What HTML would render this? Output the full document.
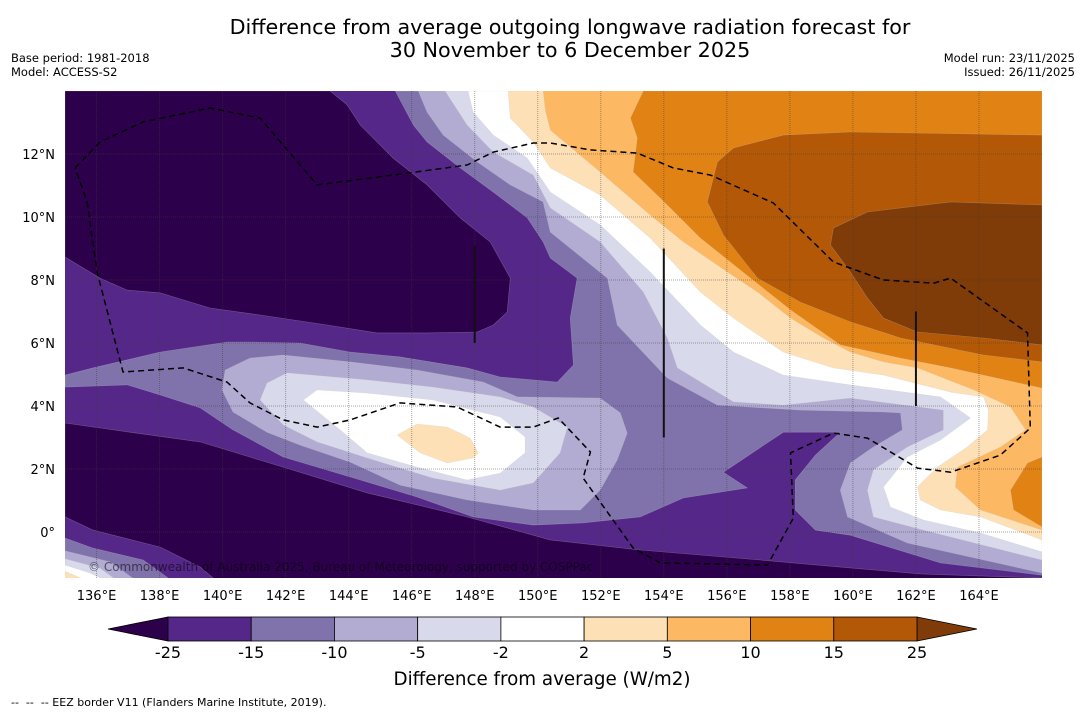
<!DOCTYPE html>
<html><head><meta charset="utf-8">
<style>
body{margin:0;background:#fff;}
svg{display:block;font-family:"DejaVu Sans","Liberation Sans",sans-serif;}
</style></head>
<body>
<svg id="chart" width="1085" height="713" viewBox="0 0 1085 713" xmlns="http://www.w3.org/2000/svg">
<defs><clipPath id="mapclip"><rect x="65" y="91" width="977" height="487"/></clipPath></defs>
<text x="570" y="34" text-anchor="middle" font-size="20.7" fill="#000">Difference from average outgoing longwave radiation forecast for</text>
<text x="570" y="57" text-anchor="middle" font-size="20.7" fill="#000">30 November to 6 December 2025</text>
<text x="11" y="62" font-size="11.5">Base period: 1981-2018</text>
<text x="11" y="76" font-size="11.5">Model: ACCESS-S2</text>
<text x="1075" y="62" font-size="11.5" text-anchor="end">Model run: 23/11/2025</text>
<text x="1075" y="76" font-size="11.5" text-anchor="end">Issued: 26/11/2025</text>
<g id="map" clip-path="url(#mapclip)"></g>
<g id="overlay"></g>
<g id="axes"></g>
<g id="cbar"></g>
<text x="542" y="685" text-anchor="middle" font-size="18.3">Difference from average (W/m2)</text>
<text x="11" y="706" font-size="11" xml:space="preserve">--  --  -- EEZ border V11 (Flanders Marine Institute, 2019).</text>
</svg>
<script>
// ---- data ----
const lonTicks = [136,138,140,142,144,146,148,150,152,154,156,158,160,162,164];
const latTicks = [0,2,4,6,8,10,12];
const cbLevels = [-25,-15,-10,-5,-2,2,5,10,15,25];
const cbColors = ["#542788","#8073ac","#b2abd2","#d8daeb","#ffffff","#fee0b6","#fdb863","#e08214","#b35806"];
const cbUnder = "#2d004b";
const cbOver = "#7f3b08";
// filled contour polygons (lon,lat pairs), drawn in order
const bgLevel = -25;
const polyD1 = [135,14,143.41,14,143.95,13.56,144.37,12.92,145.41,11.87,146.49,11.02,147.54,9.97,148.49,9.21,149.13,8.06,149.03,6.98,148.59,6.57,148.08,6.35,146.49,6.32,144.9,6.32,143.32,6.57,141.19,6.89,139.6,7.11,138.02,7.59,136.97,7.68,136.11,8.06,135,8.73];
const polyD2 = [135,3.46,137.06,3.17,139.29,2.86,141.92,2.06,144.59,1.24,147.76,0.48,150.4,-0.25,153.25,-0.57,157.06,-0.89,159.92,-1.14,162.14,-1.33,166,-1.46,166,-1.7,139.7,-1.7,139.7,-1.46,139.29,-1.11,138.02,-0.48,135.89,0.06,135,0.48];
const polyM15 = [145.48,14,146.05,12.92,146.49,12.38,147.54,11.56,148.59,10.79,149.67,9.97,150.17,9.21,150.4,8.7,151.25,8.06,151.03,6.79,151.13,5.3,150.62,4.76,148.81,4.92,147.76,5.21,145.63,5.56,144.05,5.71,142.46,6.0,140.87,6.03,140.14,6.03,138.02,5.71,135.89,5.21,135,4.98,135,4.6,136.97,4.67,138.02,4.35,139.29,3.94,140.33,3.24,141.92,2.38,144.05,1.75,146.17,1.11,147.95,0.48,149.86,0.22,151.44,0.29,153.25,0.48,154.62,1.08,156.65,1.4,155.89,1.9,157.79,3.17,159.6,3.17,158.81,2.44,158.17,1.65,158.17,0.7,158.81,0.06,159.92,-0.1,162.78,-0.98,166,-1.37,166,14];
const polyM15c = [135,-0.19,135.89,-0.51,137.48,-0.89,138.33,-1.5,135,-1.5];
const polyM10a = [146.21,14,146.49,13.33,147.0,12.6,148.08,11.75,149.13,11.02,150.17,10.48,150.4,9.52,152.21,8.06,152.52,6.57,154.11,4.89,155.7,4.03,158.33,3.87,160.97,3.81,161.51,3.78,161.57,3.24,160.65,2.7,159.92,2.19,159.6,1.33,159.83,0.48,161.73,-0.35,166,-1.3,166,14];
const polyM10b = [139.98,4.51,140.08,5.14,140.87,5.52,141.92,5.62,144.05,5.4,146.17,5.14,148.27,4.76,149.35,4.29,151.98,4.25,152.62,3.78,152.84,3.14,152.52,2.29,151.98,1.33,151.35,0.7,149.86,0.7,147.76,1.02,145.63,1.49,144.05,2.22,142.46,2.76,141.41,3.17,140.33,3.81];
const polyM10c = [135,-0.6,136.43,-0.95,137.2,-1.5,135,-1.5];
const polyM5a = [147.06,14,147.76,12.92,148.59,12.06,149.86,11.33,150.4,10.29,151.98,9.21,153.35,7.62,154.11,6.16,154.43,5.21,156.21,4.13,157.79,4.03,159.92,4.25,162.87,3.87,162.87,3.24,161.73,2.7,160.65,1.97,160.46,1.33,160.65,0.48,162.24,0.06,166,-0.89,166,14];
const polyM5b = [141.19,4.19,141.41,4.73,142.05,5.05,144.59,4.83,146.68,4.6,148.81,4.29,149.86,3.97,150.94,3.33,150.71,2.51,149.86,1.56,148.81,1.33,146.68,1.71,144.59,2.35,143.0,2.86,141.92,3.4];
const polyM5c = [135,-0.85,136.11,-1.15,136.6,-1.5,135,-1.5];
const polyM2a = [147.79,14,147.95,13.33,148.59,12.6,149.67,11.87,150.4,10.79,151.98,9.75,153.57,8.25,155.16,6.57,156.21,5.71,157.79,4.98,159.92,4.67,162.78,4.29,163.73,3.62,162.78,2.92,161.73,2.38,160.97,1.43,161.19,0.79,162.24,0.38,164.05,-0.03,166,-0.63,166,14];
const polyM2b = [142.56,4.19,143.0,4.51,144.59,4.41,146.68,4.19,148.81,3.65,149.6,3.02,149.6,2.51,148.81,1.87,147.76,1.65,146.17,2.06,144.59,2.51,143.73,3.24];
const polyM2c = [135,-1.05,135.79,-1.3,136.2,-1.5,135,-1.5];
const polyP2a = [149.06,14,149.13,13.14,149.86,12.38,150.4,11.56,151.98,10.7,153.57,9.33,155.16,7.62,156.21,6.79,157.79,5.71,159.38,5.21,160.97,4.98,163.1,4.44,164.14,4.29,164.3,3.87,164.27,3.24,163.63,2.7,162.68,2.06,162.05,1.43,162.14,1.02,162.78,0.7,164.05,0.48,166,-0.25,166,14];
const polyP2b = [145.54,3.08,146.17,3.43,147.13,3.33,147.86,2.98,148.11,2.51,147.95,2.35,147.13,2.19,146.27,2.51];
const polyP2c = [135,-1.25,135.6,-1.5,135,-1.5];
const polyP5 = [150.17,14,150.24,13.4,150.4,12.76,151.98,11.43,153.57,10.06,154.62,9.21,156.02,8.25,156.97,7.62,158.02,6.79,159.06,6.16,159.92,5.71,160.97,5.4,162.05,5.21,163.83,4.51,165.0,3.97,165.48,3.24,164.68,2.7,163.32,2.06,163.25,1.43,164.05,0.7,166,0.06,166,14];
const polyP10a = [153.35,14,152.94,13.14,153.16,12.51,153.03,11.43,153.89,10.6,155.16,9.33,156.75,8.06,158.02,7.05,159.6,5.94,161.51,5.52,163.1,5.21,166,4.57,166,14];
const polyP10b = [166,2.38,165.54,2.19,165.0,1.33,165.1,0.7,166,0.16];
const polyP15 = [166,12.6,159.92,12.7,157.79,12.6,156.21,12.19,155.7,11.75,155.38,10.48,155.89,9.43,156.97,8.06,158.33,7.3,159.92,6.67,161.51,6.16,164.14,5.62,166,5.4];
const polyP25 = [166,10.38,163.1,10.48,160.46,10.16,159.38,9.65,159.29,9.11,159.92,8.25,160.46,7.43,160.97,6.79,162.05,6.35,164.14,6.16,166,5.94];
const eezLine = [135.32,11.56,136.11,12.38,137.48,13.02,139.6,13.46,141.19,13.14,143.0,11.02,145.41,11.33,147.76,11.65,148.59,12.06,149.86,12.35,150.4,12.35,151.67,12.13,153.16,12.03,154.3,11.56,155.48,11.33,157.48,10.44,159.38,8.57,160.97,8.0,162.56,7.9,163.1,8.06,165.54,6.32,165.63,3.3,164.68,2.44,163.1,1.9,162.05,2.03,160.46,2.98,159.38,3.14,158.02,2.51,158.11,0.44,157.29,-1.05,153.89,-0.98,153.03,-0.51,151.44,1.71,151.67,2.54,150.65,3.62,149.86,3.33,148.81,3.33,147.44,3.97,145.63,4.1,144.05,3.56,143.0,3.33,141.92,3.56,140.87,4.1,140.14,4.76,138.75,5.21,136.84,5.08,136.02,8.25,135.7,10.48,135.32,11.56];
const boundaryLon = [148,154,162];
const boundaryLat0 = [9.1,9.0,7.0];
const boundaryLat1 = [6.0,3.0,4.0];

// ---- axes ----
const X0=65,X1=1042,Y0=91,Y1=578, LON0=135,LON1=166, LAT0=-1.46, LAT1=14;
const xs = lon => X0 + (lon-LON0)/(LON1-LON0)*(X1-X0);
const ys = lat => Y1 - (lat-LAT0)/(LAT1-LAT0)*(Y1-Y0);
const NS="http://www.w3.org/2000/svg";
function mk(tag, parent){const e=document.createElementNS(NS,tag);parent.appendChild(e);return e;}
function colorFor(v){ if(v<cbLevels[0]) return cbUnder; for(let i=0;i<cbLevels.length-1;i++){ if(v<cbLevels[i+1]) return cbColors[i]; } return cbOver; }
const map=document.getElementById('map');
const bg=mk('rect',map);


bg.setAttribute('x',X0);bg.setAttribute('y',Y0);bg.setAttribute('width',X1-X0);bg.setAttribute('height',Y1-Y0);bg.setAttribute('fill',colorFor(bgLevel));
const layers = [
 [polyD1,-30,'contour-below-25-north'],[polyD2,-30,'contour-below-25-south'],
 [polyM15,-12,'contour-m15'],[polyM15c,-12,'contour-m15-corner'],
 [polyM10a,-7,'contour-m10-north'],[polyM10b,-7,'contour-m10-central'],[polyM10c,-7,'contour-m10-corner'],
 [polyM5a,-3,'contour-m5-north'],[polyM5b,-3,'contour-m5-central'],[polyM5c,-3,'contour-m5-corner'],
 [polyM2a,0,'contour-m2-north'],[polyM2b,0,'contour-m2-central'],[polyM2c,0,'contour-m2-corner'],
 [polyP2a,3,'contour-p2-north'],[polyP2b,3,'contour-p2-central'],[polyP2c,3,'contour-p2-corner'],
 [polyP5,7,'contour-p5'],[polyP10a,12,'contour-p10-north'],[polyP10b,12,'contour-p10-east'],
 [polyP15,20,'contour-p15'],[polyP25,30,'contour-p25']
];
layers.forEach(([pts,val,name])=>{
  const p=mk('polygon',map);
  
  
  let s=[];for(let i=0;i<pts.length;i+=2){s.push(xs(pts[i]).toFixed(1)+','+ys(pts[i+1]).toFixed(1));}
  p.setAttribute('points',s.join(' '));
  p.setAttribute('fill',colorFor(val));
  p.setAttribute('stroke','rgba(200,200,200,0.35)');p.setAttribute('stroke-width','0.6');
});
// gridlines
lonTicks.forEach(l=>{const g=mk('line',map);
  
  
  g.setAttribute('x1',xs(l));g.setAttribute('x2',xs(l));g.setAttribute('y1',Y0);g.setAttribute('y2',Y1);g.setAttribute('stroke','rgba(60,60,60,0.45)');g.setAttribute('stroke-width','1');g.setAttribute('stroke-dasharray','1,1');});
latTicks.forEach(l=>{const g=mk('line',map);
  
  
  g.setAttribute('y1',ys(l));g.setAttribute('y2',ys(l));g.setAttribute('x1',X0);g.setAttribute('x2',X1);g.setAttribute('stroke','rgba(60,60,60,0.45)');g.setAttribute('stroke-width','1');g.setAttribute('stroke-dasharray','1,1');});
// EEZ
const ov=document.getElementById('map');
const eez=mk('polyline',ov);


let es=[];for(let i=0;i<eezLine.length;i+=2){es.push(xs(eezLine[i]).toFixed(1)+','+ys(eezLine[i+1]).toFixed(1));}
eez.setAttribute('points',es.join(' '));eez.setAttribute('fill','none');eez.setAttribute('stroke','#000');eez.setAttribute('stroke-width','1.5');eez.setAttribute('stroke-dasharray','6,4');
boundaryLon.forEach((l,i)=>{const b=mk('line',ov);
  
  
  b.setAttribute('x1',xs(l));b.setAttribute('x2',xs(l));b.setAttribute('y1',ys(boundaryLat0[i]));b.setAttribute('y2',ys(boundaryLat1[i]));b.setAttribute('stroke','#111');b.setAttribute('stroke-width','2');});
const cp=mk('text',ov);


cp.setAttribute('x',88);cp.setAttribute('y',571);cp.setAttribute('font-size','12');cp.setAttribute('fill','rgba(0,0,0,0.55)');
cp.textContent='© Commonwealth of Australia 2025, Bureau of Meteorology, supported by COSPPac';
// tick labels
const axes=document.getElementById('axes');
lonTicks.forEach(l=>{const t=mk('text',axes);
  
  
  t.setAttribute('x',xs(l));t.setAttribute('y',600);t.setAttribute('text-anchor','middle');t.setAttribute('font-size','13');t.textContent=l+'°E';});
latTicks.forEach(l=>{const t=mk('text',axes);
  
  
  t.setAttribute('x',55);t.setAttribute('y',ys(l)+5);t.setAttribute('text-anchor','end');t.setAttribute('font-size','13');t.textContent=l===0?'0°':l+'°N';});
// colorbar
const cb=document.getElementById('cbar');
const CB0=168,CB1=917,CBY=617,CBH=24,TRI=60;
const cbx=i=>CB0+i*(CB1-CB0)/(cbLevels.length-1);
const lt=mk('polygon',cb);


lt.setAttribute('points',`${CB0},${CBY} ${CB0-TRI},${CBY+CBH/2} ${CB0},${CBY+CBH}`);lt.setAttribute('fill',cbUnder);lt.setAttribute('stroke','#000');lt.setAttribute('stroke-width','0.8');
const rt=mk('polygon',cb);


rt.setAttribute('points',`${CB1},${CBY} ${CB1+TRI},${CBY+CBH/2} ${CB1},${CBY+CBH}`);rt.setAttribute('fill',cbOver);rt.setAttribute('stroke','#000');rt.setAttribute('stroke-width','0.8');
cbColors.forEach((c,i)=>{const r=mk('rect',cb);
  
  
  r.setAttribute('x',cbx(i));r.setAttribute('y',CBY);r.setAttribute('width',cbx(i+1)-cbx(i));r.setAttribute('height',CBH);r.setAttribute('fill',c);r.setAttribute('stroke','#000');r.setAttribute('stroke-width','0.8');});
cbLevels.forEach((v,i)=>{const t=mk('text',cb);
  
  
  t.setAttribute('x',cbx(i));t.setAttribute('y',658);t.setAttribute('text-anchor','middle');t.setAttribute('font-size','16');t.textContent=v;});
</script>
</body></html>
